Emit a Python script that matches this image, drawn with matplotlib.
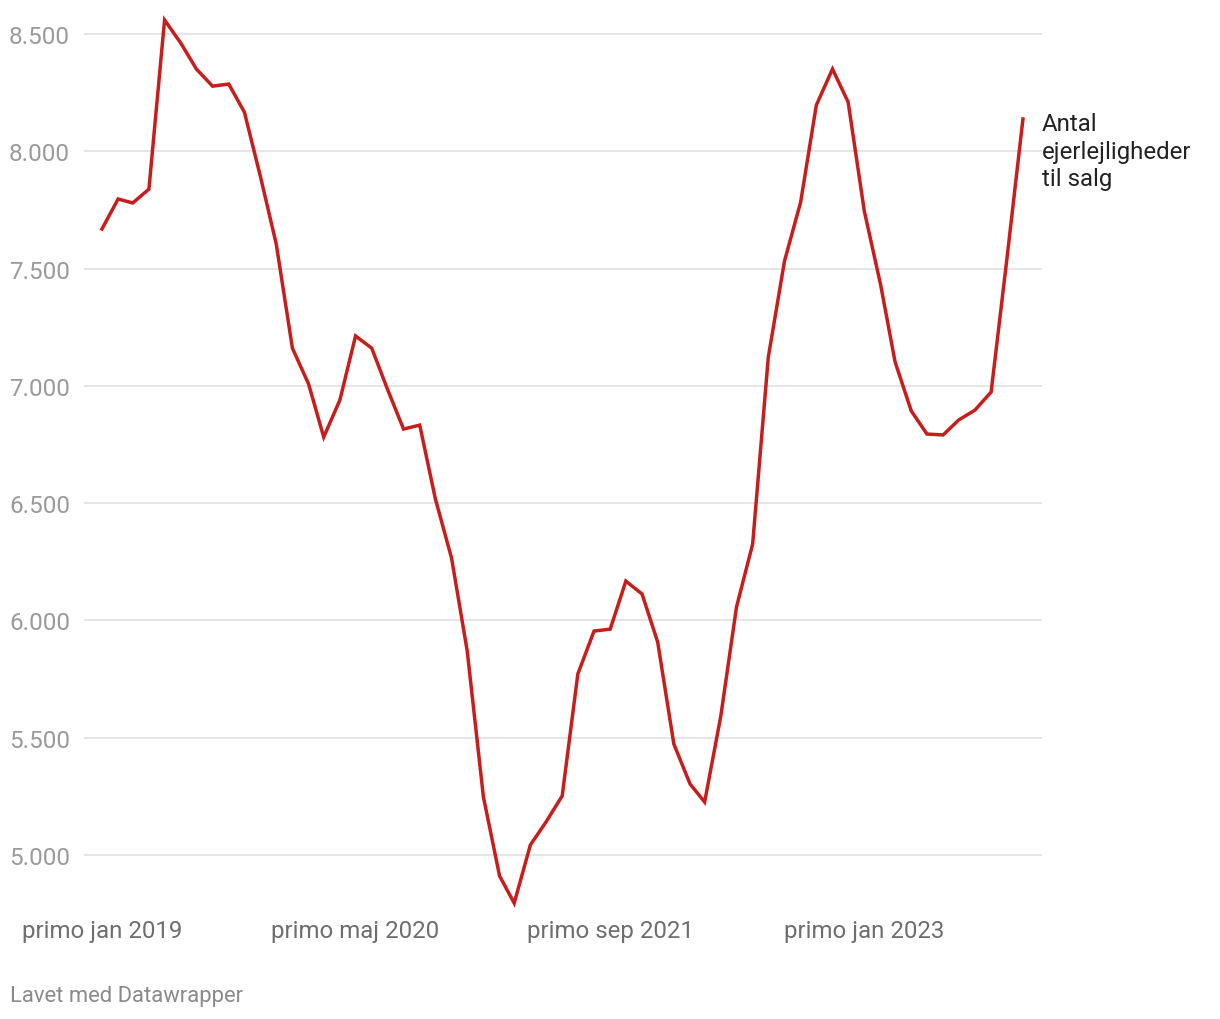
import matplotlib
matplotlib.use("Agg")
import matplotlib.pyplot as plt
import matplotlib.dates as mdates
import numpy as np
import pandas as pd

plt.rcParams['font.family'] = ['Roboto', 'DejaVu Sans']

# monthly values, primo jan 2019 .. primo nov 2023
start = "2019-01-01"
values = [7669, 7797, 7780, 7839, 8560, 8462, 8351, 8278, 8287, 8167,
          7890, 7605, 7161, 7008, 6782, 6940, 7213, 7161, 6987, 6816,
          6833, 6518, 6266, 5870, 5248, 4911, 4795, 5043, 5141, 5252,
          5772, 5955, 5963, 6168, 6113, 5908, 5473, 5303, 5226, 5593,
          6057, 6326, 7123, 7532, 7784, 8197, 8351, 8210, 7745, 7434,
          7102, 6893, 6795, 6791, 6855, 6897, 6974, 7537, 8138]
months = pd.date_range(start, periods=len(values), freq="MS")

xtick_dates = ["2019-01-01", "2020-05-01", "2021-09-01", "2023-01-01"]
xtick_labels = ["primo jan 2019", "primo maj 2020", "primo sep 2021", "primo jan 2023"]
ytick_values = [5000, 5500, 6000, 6500, 7000, 7500, 8000, 8500]
ytick_labels = ["5.000", "5.500", "6.000", "6.500", "7.000", "7.500", "8.000", "8.500"]
series_label = "Antal\nejerlejligheder\ntil salg"

W, H = 1220, 1020
fig = plt.figure(figsize=(W / 100, H / 100), dpi=100)
# axes box in pixels: x 84..1042, y 10..910
ax = fig.add_axes([84 / W, (H - 910) / H, (1042 - 84) / W, 900 / H])

red = "#c71e1d"
ax.plot(months, values, color=red, lw=2.5, solid_joinstyle="miter", zorder=3)

x0 = mdates.date2num(pd.Timestamp(start))
ax.set_xlim(x0 - 34.4, mdates.date2num(months[-1]) + 36.5)
ax.set_ylim(4770, 8607)

ax.set_yticks(ytick_values)
ax.set_yticklabels(ytick_labels)
ax.set_xticks(pd.to_datetime(xtick_dates))
ax.set_xticklabels(xtick_labels)

ax.grid(axis="y", color="#e3e3e3", lw=1.3, zorder=0)
ax.grid(axis="x", visible=False)
for s in ax.spines.values():
    s.set_visible(False)
ax.tick_params(axis="y", length=0, pad=10, labelsize=17.5, labelcolor="#9a9a9a")
ax.tick_params(axis="x", length=0, pad=7, labelsize=17.3, labelcolor="#6e6e6e")

fig.text(1042 / W, 1 - 152 / H, series_label, ha="left", va="center",
         fontsize=17.3, color="#222222", linespacing=1.24)

fig.text(10 / W, 1 - 997 / H, "Lavet med Datawrapper", ha="left", va="center",
         fontsize=15.8, color="#8a8a8a")

fig.savefig("out.png", dpi=100)
